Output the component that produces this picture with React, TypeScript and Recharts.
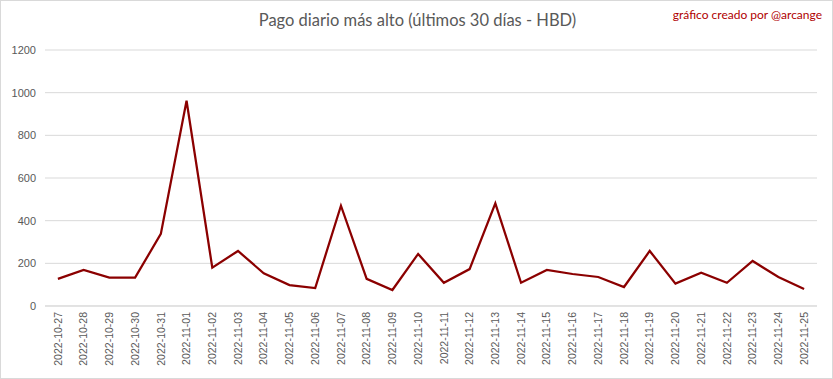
import { LineChart, Line, XAxis, YAxis, CartesianGrid } from "recharts";

const dates = [
  "2022-10-27", "2022-10-28", "2022-10-29", "2022-10-30", "2022-10-31",
  "2022-11-01", "2022-11-02", "2022-11-03", "2022-11-04", "2022-11-05",
  "2022-11-06", "2022-11-07", "2022-11-08", "2022-11-09", "2022-11-10",
  "2022-11-11", "2022-11-12", "2022-11-13", "2022-11-14", "2022-11-15",
  "2022-11-16", "2022-11-17", "2022-11-18", "2022-11-19", "2022-11-20",
  "2022-11-21", "2022-11-22", "2022-11-23", "2022-11-24", "2022-11-25",
];

const maxPayout = [
  127, 169, 133, 133, 338, 962, 180, 258, 153, 98,
  84, 470, 127, 75, 244, 109, 173, 481, 109, 169,
  150, 136, 89, 258, 105, 156, 109, 211, 136, 80,
];

const yTicks = [0, 200, 400, 600, 800, 1000, 1200];

const data = dates.map((d, i) => ({ date: d, value: maxPayout[i] }));

const W = 833;
const H = 379;

function DateTick(props: any) {
  const { x, y, payload } = props;
  return (
    <g transform={`translate(${x},${y})`}>
      <text
        transform="rotate(-90)"
        x={0}
        y={0}
        dy="0.35em"
        textAnchor="end"
        fill="#595959"
        fontSize={10.5}
        fontFamily="'Liberation Sans', Arial, sans-serif"
      >
        {payload.value}
      </text>
    </g>
  );
}

export default function App() {
  return (
    <div
      style={{
        position: "absolute",
        left: 0,
        top: 0,
        width: W,
        height: H,
        background: "#fff",
        border: "1px solid #D9D9D9",
        boxSizing: "border-box",
        overflow: "hidden",
      }}
    >
      <div
        style={{
          position: "absolute",
          left: 0,
          width: W,
          top: 9,
          textAlign: "center",
          fontFamily: "Lato, 'Open Sans', sans-serif",
          fontSize: 16.5,
          color: "#595959",
        }}
      >
        Pago diario más alto (últimos 30 días - HBD)
      </div>
      <div
        style={{
          position: "absolute",
          right: 10,
          top: 6,
          fontFamily: "Lato, 'Open Sans', sans-serif",
          fontSize: 12,
          color: "#B00000",
        }}
      >
        gráfico creado por @arcange
      </div>
      <LineChart
        width={W - 2}
        height={H - 2}
        data={data}
        margin={{ top: 49, right: 15, left: 0, bottom: 0 }}
      >
        <CartesianGrid vertical={false} stroke="#D9D9D9" strokeWidth={1} />
        <XAxis
          dataKey="date"
          interval={0}
          height={72}
          tickLine={false}
          axisLine={{ stroke: "#D9D9D9" }}
          padding={{ left: 12.9, right: 12.9 }}
          tick={<DateTick />}
          tickMargin={0}
        />
        <YAxis
          width={44}
          domain={[0, 1200]}
          ticks={yTicks}
          interval={0}
          axisLine={false}
          tickLine={false}
          tickMargin={3}
          tick={{
            fill: "#595959",
            fontSize: 11,
            fontFamily: "'Liberation Sans', Arial, sans-serif",
          }}
        />
        <Line
          type="linear"
          dataKey="value"
          stroke="#8B0000"
          strokeWidth={2.25}
          dot={false}
          isAnimationActive={false}
        />
      </LineChart>
    </div>
  );
}
